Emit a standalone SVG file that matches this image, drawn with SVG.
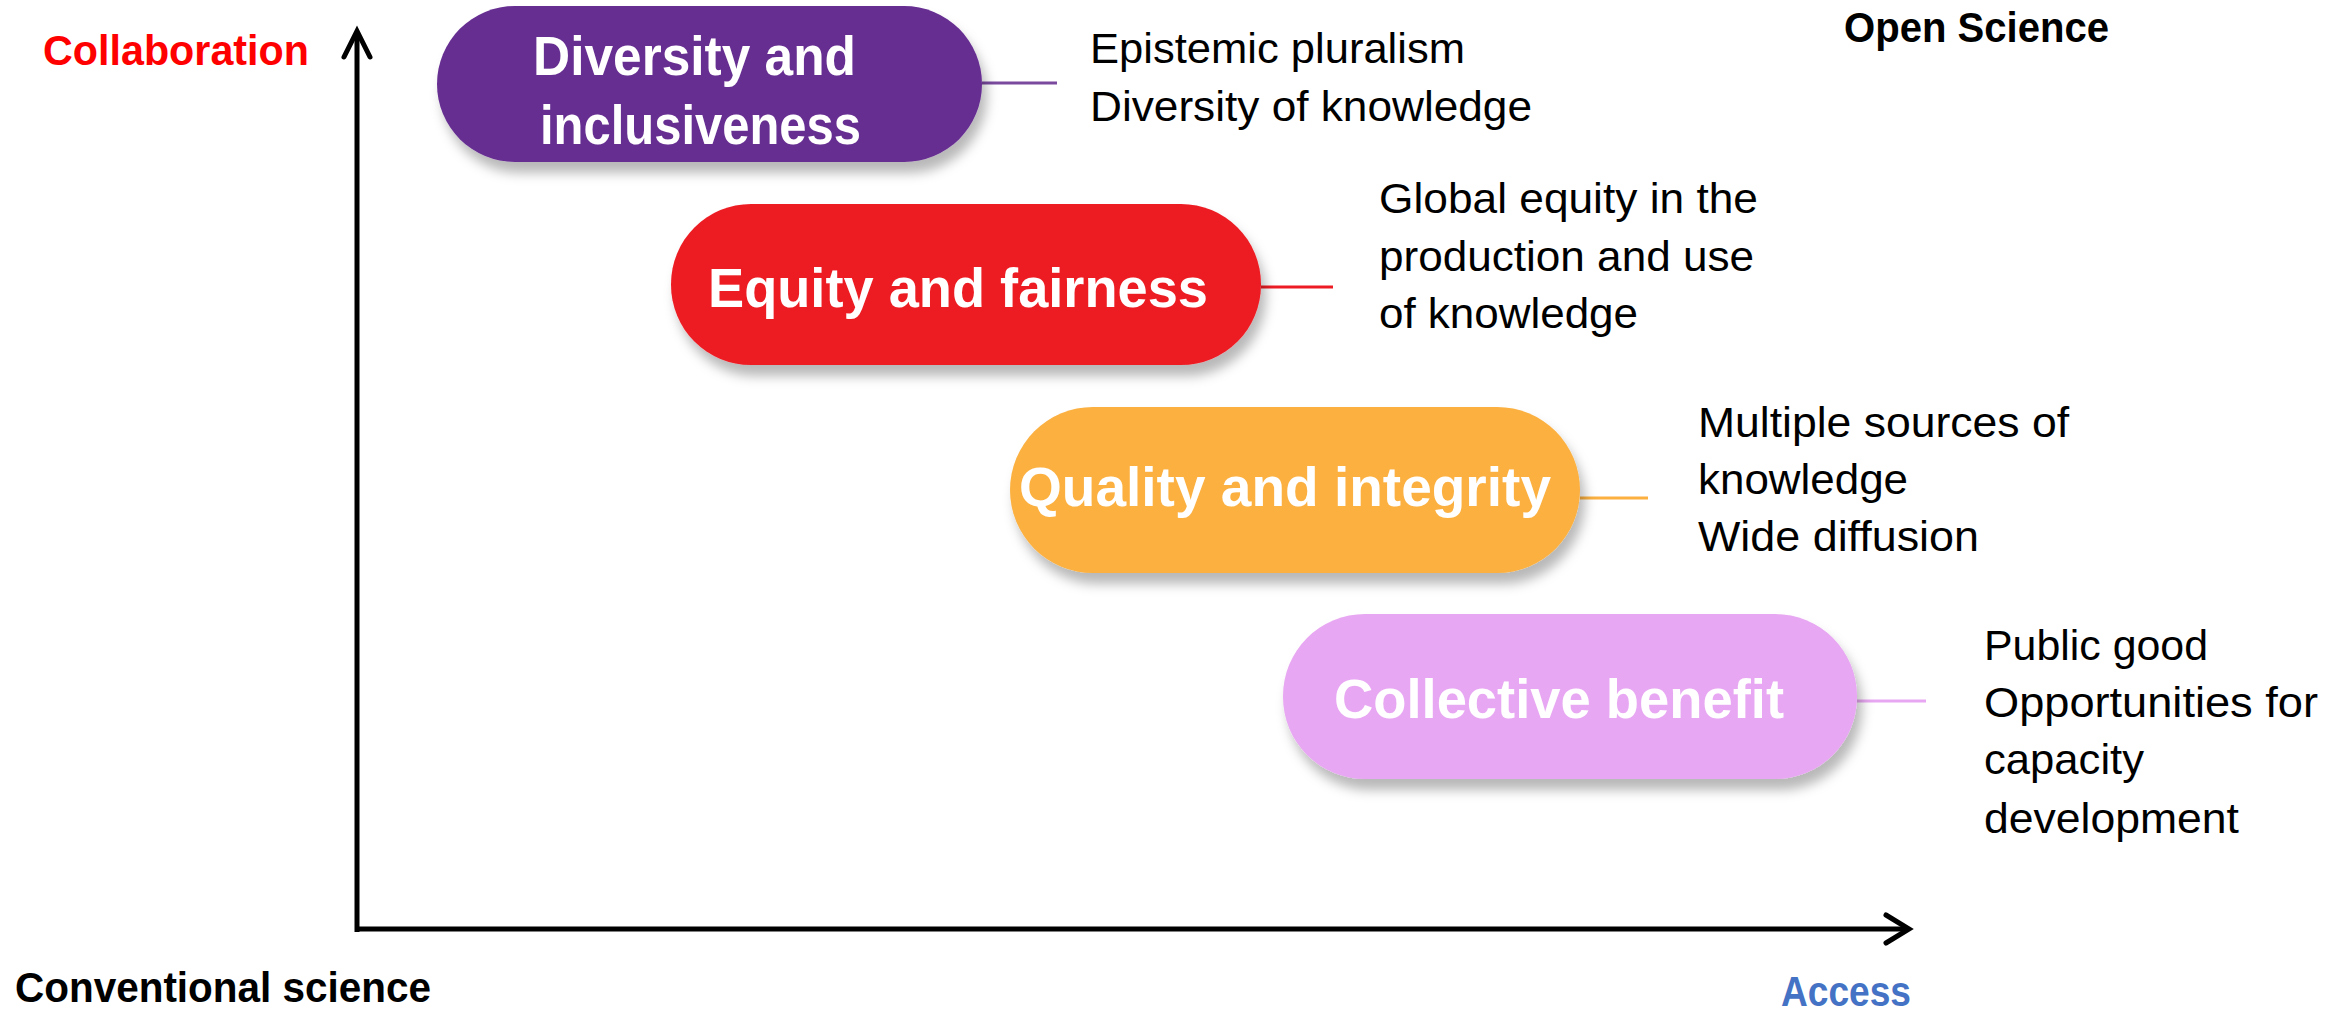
<svg xmlns="http://www.w3.org/2000/svg" width="2351" height="1017" viewBox="0 0 2351 1017">
  <style>
    .lbl { font-family: "Liberation Sans", Arial, sans-serif; font-weight: bold; font-size: 56px; fill: #ffffff; }
    .desc { font-family: "Liberation Sans", Arial, sans-serif; font-size: 42px; fill: #000000; }
    .axis-lbl { font-family: "Liberation Sans", Arial, sans-serif; font-weight: bold; font-size: 42px; }
    .axis { stroke: #000000; stroke-width: 5; fill: none; stroke-linecap: butt; }
    .head { stroke: #000000; stroke-width: 5; fill: none; stroke-linejoin: miter; stroke-linecap: round; }
    .conn { stroke-width: 3; fill: none; }
  </style>
  <defs>
    <filter id="shadow" x="-10%" y="-20%" width="125%" height="150%">
      <feDropShadow dx="5" dy="11" stdDeviation="6" flood-color="#000000" flood-opacity="0.28"/>
    </filter>
  </defs>
  <rect width="2351" height="1017" fill="#ffffff"/>

  <g id="axes">
    <line class="axis" x1="357" y1="932" x2="357" y2="32"/>
    <polyline class="head" points="344,57 357,31 370,57"/>
    <line class="axis" x1="355" y1="929" x2="1907" y2="929"/>
    <polyline class="head" points="1886,915 1909,929 1886,943"/>
  </g>

  <g id="axis-labels">
    <text class="axis-lbl" x="43" y="65" fill="#FF0000" textLength="266" lengthAdjust="spacingAndGlyphs">Collaboration</text>
    <text class="axis-lbl" x="1844" y="42" fill="#000000" textLength="265" lengthAdjust="spacingAndGlyphs">Open Science</text>
    <text class="axis-lbl" x="15" y="1002" fill="#000000" textLength="416" lengthAdjust="spacingAndGlyphs">Conventional science</text>
    <text class="axis-lbl" x="1781" y="1006" fill="#4472C4" font-size="44" textLength="130" lengthAdjust="spacingAndGlyphs">Access</text>
  </g>

  <g id="connectors">
    <line class="conn" stroke="#7A4A9F" x1="982" y1="83" x2="1057" y2="83"/>
    <line class="conn" stroke="#ED1C24" x1="1261" y1="287" x2="1333" y2="287"/>
    <line class="conn" stroke="#FBB040" x1="1580" y1="498" x2="1648" y2="498"/>
    <line class="conn" stroke="#E8A7F2" x1="1857" y1="701" x2="1926" y2="701"/>
  </g>

  <g id="node-diversity">
    <rect x="437" y="6" width="545" height="156" rx="78" ry="78" fill="#662D91" filter="url(#shadow)"/>
    <text class="lbl" x="533" y="75" textLength="323" lengthAdjust="spacingAndGlyphs">Diversity and</text>
    <text class="lbl" x="540" y="144" textLength="321" lengthAdjust="spacingAndGlyphs">inclusiveness</text>
  </g>

  <g id="node-equity">
    <rect x="671" y="204" width="590" height="161" rx="80" ry="80" fill="#ED1C24" filter="url(#shadow)"/>
    <text class="lbl" x="708" y="307" textLength="500" lengthAdjust="spacingAndGlyphs">Equity and fairness</text>
  </g>

  <g id="node-quality">
    <rect x="1010" y="407" width="570" height="166" rx="83" ry="83" fill="#FBB040" filter="url(#shadow)"/>
    <text class="lbl" x="1019" y="506" textLength="532" lengthAdjust="spacingAndGlyphs">Quality and integrity</text>
  </g>

  <g id="node-collective">
    <rect x="1283" y="614" width="574" height="165" rx="82" ry="82" fill="#E8A7F2" filter="url(#shadow)"/>
    <text class="lbl" x="1334" y="718" textLength="450" lengthAdjust="spacingAndGlyphs">Collective benefit</text>
  </g>

  <g id="desc-diversity">
    <text class="desc" x="1090" y="63" textLength="375" lengthAdjust="spacingAndGlyphs">Epistemic pluralism</text>
    <text class="desc" x="1090" y="121" textLength="442" lengthAdjust="spacingAndGlyphs">Diversity of knowledge</text>
  </g>

  <g id="desc-equity">
    <text class="desc" x="1379" y="213" textLength="379" lengthAdjust="spacingAndGlyphs">Global equity in the</text>
    <text class="desc" x="1379" y="271" textLength="375" lengthAdjust="spacingAndGlyphs">production and use</text>
    <text class="desc" x="1379" y="328" textLength="259" lengthAdjust="spacingAndGlyphs">of knowledge</text>
  </g>

  <g id="desc-quality">
    <text class="desc" x="1698" y="437" textLength="371" lengthAdjust="spacingAndGlyphs">Multiple sources of</text>
    <text class="desc" x="1698" y="494" textLength="210" lengthAdjust="spacingAndGlyphs">knowledge</text>
    <text class="desc" x="1698" y="551" textLength="281" lengthAdjust="spacingAndGlyphs">Wide diffusion</text>
  </g>

  <g id="desc-collective">
    <text class="desc" x="1984" y="660" textLength="224" lengthAdjust="spacingAndGlyphs">Public good</text>
    <text class="desc" x="1984" y="717" textLength="334" lengthAdjust="spacingAndGlyphs">Opportunities for</text>
    <text class="desc" x="1984" y="774" textLength="160" lengthAdjust="spacingAndGlyphs">capacity</text>
    <text class="desc" x="1984" y="833" textLength="255" lengthAdjust="spacingAndGlyphs">development</text>
  </g>
</svg>
